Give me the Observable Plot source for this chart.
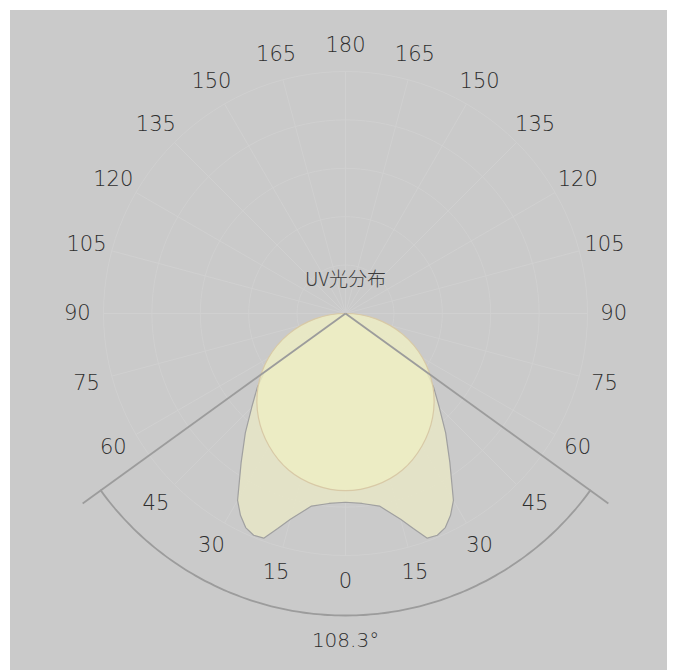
<!DOCTYPE html>
<html>
<head>
<meta charset="utf-8">
<script src="https://cdn.jsdelivr.net/npm/d3@7"></script>
<script src="https://cdn.jsdelivr.net/npm/@observablehq/plot@0.6"></script>
<style>
  html, body { margin: 0; padding: 0; background: #ffffff; }
  #frame { position: absolute; left: 10px; top: 10px; width: 657px; height: 660px; background: #cacaca; overflow: hidden; }
  #frame svg { display: block; }
</style>
</head>
<body>
<div id="frame"></div>
<script>
// ---- data (angles in degrees from the downward vertical, intensity in chart units) ----
const angleTicks = [0, 15, 30, 45, 60, 75, 90, 105, 120, 135, 150, 165, 180];
const ringValues = [50, 100, 150, 200, 250];
const batwingAngles = [0, 5, 10, 15, 17.5, 20, 22.5, 25, 27.5, 30, 35, 40, 45, 50, 54];
const batwingValues = [195, 197, 202, 220, 233, 247, 248, 244, 235, 223, 188, 161, 137, 119, 104];
const lambertAngles = [0, 10, 20, 30, 40, 50, 60, 70, 80, 90];
const lambertValues = [183, 180, 172, 158, 140, 118, 92, 63, 32, 0];
const beamAngle = 108.3;
const chartTitle = "UV光分布";

// ---- layout constants ----
const W = 657, H = 660;
const outerRing = 250, labelRadius = 277, arcRadius = 312, beamLineRadius = 335;
const rad = d => d * Math.PI / 180;
const px = (r, a) => r * Math.sin(rad(a));
const py = (r, a) => -r * Math.cos(rad(a));

// symmetric batwing outline: origin -> +54 ... 0 ... -54 -> origin
const bw = [{a: 60, r: 0}];
for (let i = batwingAngles.length - 1; i >= 0; i--) bw.push({a: batwingAngles[i], r: batwingValues[i]});
for (let i = 1; i < batwingAngles.length; i++) bw.push({a: -batwingAngles[i], r: batwingValues[i]});
bw.push({a: -60, r: 0});

// lambert circle
const lam = [];
for (let i = lambertAngles.length - 1; i >= 0; i--) lam.push({a: lambertAngles[i], r: lambertValues[i]});
for (let i = 1; i < lambertAngles.length - 1; i++) lam.push({a: -lambertAngles[i], r: lambertValues[i]});

// grid rings
const rings = [];
for (const r of ringValues) for (let a = 0; a <= 360; a += 3) rings.push({ring: r, a, r});
// spokes
const spokes = d3.range(0, 360, 15).map(a => ({a}));
// labels
const labels = [];
for (const t of angleTicks) {
  labels.push({a: t, text: String(t)});
  if (t !== 0 && t !== 180) labels.push({a: -t, text: String(t)});
}
// beam lines & arc
const half = beamAngle / 2;
const beamLines = [{a: half}, {a: -half}];
const arc = d3.range(-half, half + 0.001, half / 40).map(a => ({a}));

const labelFont = "'DejaVu Sans', 'Noto Sans', sans-serif";
const cx = 335, cy = 303, k = 242 / outerRing;
const chart = Plot.plot({
  width: W, height: H, margin: 0,
  x: {domain: [-cx / k, (W - cx) / k], axis: null},
  y: {domain: [-(H - cy) / k, cy / k], axis: null},
  style: {background: "transparent", overflow: "visible"},
  marks: [
    Plot.line(rings, {x: d => px(d.r, d.a), y: d => py(d.r, d.a), z: "ring", stroke: "#d0d0d0", strokeWidth: 1}),
    Plot.link(spokes, {x1: 0, y1: 0, x2: d => px(outerRing, d.a), y2: d => py(outerRing, d.a), stroke: "#d0d0d0", strokeWidth: 1}),
    Plot.line(bw, {x: d => px(d.r, d.a), y: d => py(d.r, d.a), fill: "#e8e7c6", fillOpacity: 0.82, stroke: "#a0a0a0", strokeWidth: 1.2, curve: "linear"}),
    Plot.line(lam, {x: d => px(d.r, d.a), y: d => py(d.r, d.a), fill: "#eeeec3", fillOpacity: 0.82, stroke: "#d8c9a6", strokeWidth: 1.2, curve: "catmull-rom-closed"}),
    Plot.link(beamLines, {x1: 0, y1: 0, x2: d => px(beamLineRadius, d.a), y2: d => py(beamLineRadius, d.a), stroke: "#9c9c9c", strokeWidth: 1.8}),
    Plot.line(arc, {x: d => px(arcRadius, d.a), y: d => py(arcRadius, d.a), stroke: "#9c9c9c", strokeWidth: 1.8, curve: "catmull-rom"}),
    Plot.text(labels, {x: d => px(labelRadius, d.a), y: d => py(labelRadius, d.a), text: "text", fontSize: 21, fill: "#2e2e2e", fontFamily: labelFont, fontWeight: 200}),
    Plot.text([chartTitle], {x: 0, y: 34 / k, text: d => d, fontSize: 19, fill: "#3c3c3c", fontFamily: "'Noto Sans CJK JP', sans-serif", fontWeight: 300}),
    Plot.text([beamAngle], {x: 0, y: -327 / k, text: d => d + "°", fontSize: 20, fill: "#2e2e2e", fontFamily: labelFont, fontWeight: 200})
  ]
});
document.getElementById("frame").appendChild(chart);
</script>
</body>
</html>
